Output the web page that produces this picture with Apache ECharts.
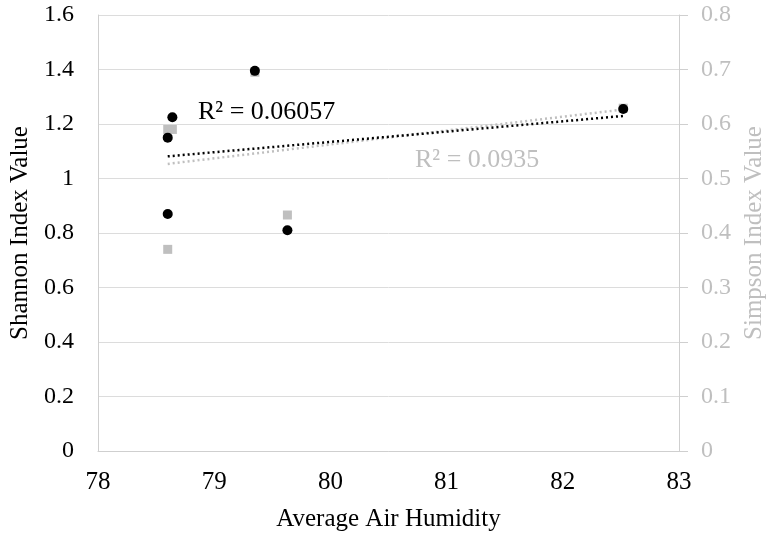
<!DOCTYPE html>
<html><head><meta charset="utf-8">
<script src="https://cdn.jsdelivr.net/npm/echarts@6/dist/echarts.min.js"></script>
<style>html,body{margin:0;padding:0;background:#fff}#c{width:766px;height:537px}</style>
</head><body><div id="c"></div>
<script>
const humidity = [78.6, 78.64, 78.6, 79.35, 79.63, 82.52];
const shannon = [1.15, 1.225, 0.87, 1.395, 0.81, 1.255];
const simpson = [0.59, 0.59, 0.37, 0.695, 0.433, 0.629];
const xTicks = [78, 79, 80, 81, 82, 83];
const shannonR2 = 'R² = 0.06057';
const simpsonR2 = 'R² = 0.0935';

function fit(xs, ys) {
  const n = xs.length;
  const mx = xs.reduce((a, b) => a + b, 0) / n;
  const my = ys.reduce((a, b) => a + b, 0) / n;
  let sxy = 0, sxx = 0;
  for (let i = 0; i < n; i++) { sxy += (xs[i] - mx) * (ys[i] - my); sxx += (xs[i] - mx) ** 2; }
  const k = sxy / sxx, b = my - k * mx;
  const x0 = Math.min(...xs), x1 = Math.max(...xs);
  return [[x0, k * x0 + b], [x1, k * x1 + b]];
}
const pts = (ys) => humidity.map((x, i) => [x, ys[i]]);

const FONT = 'Liberation Serif';
const GRAY = '#bfbfbf';
const AXIS = '#cfcfcf';
const chart = echarts.init(document.getElementById('c'));
chart.setOption({
  animation: false,
  grid: { left: 98, right: 87, top: 15, bottom: 86, outerBoundsMode: 'none', containLabel: false },
  xAxis: {
    type: 'value', min: xTicks[0], max: xTicks[xTicks.length - 1], interval: 1,
    name: 'Average Air Humidity', nameLocation: 'middle', nameGap: 56,
    nameTextStyle: { fontFamily: FONT, fontSize: 25, color: '#000' },
    axisLine: { show: true, lineStyle: { color: AXIS } },
    axisTick: { show: false },
    axisLabel: { fontFamily: FONT, fontSize: 25, color: '#000', margin: 19 },
    splitLine: { show: false }
  },
  yAxis: [{
    type: 'value', min: 0, max: 1.6, interval: 0.2, position: 'left',
    name: 'Shannon Index Value', nameLocation: 'middle', nameGap: 64,
    nameTextStyle: { fontFamily: FONT, fontSize: 25, color: '#000' },
    axisLine: { show: true, lineStyle: { color: AXIS } },
    axisTick: { show: false },
    axisLabel: { fontFamily: FONT, fontSize: 24, color: '#000', margin: 24 },
    splitLine: { show: true, lineStyle: { color: '#dcdcdc' } }
  }, {
    type: 'value', min: 0, max: 0.8, interval: 0.1, position: 'right',
    name: 'Simpson Index Value', nameLocation: 'middle', nameGap: 63,
    nameTextStyle: { fontFamily: FONT, fontSize: 25, color: GRAY },
    axisLine: { show: true, lineStyle: { color: AXIS } },
    axisTick: { show: true, inside: false, length: 9, lineStyle: { color: AXIS } },
    axisLabel: { fontFamily: FONT, fontSize: 24, color: GRAY, margin: 22 },
    splitLine: { show: false }
  }],
  series: [
    { type: 'scatter', yAxisIndex: 1, data: pts(simpson), symbol: 'rect', symbolSize: 9,
      itemStyle: { color: GRAY, opacity: 1 }, z: 2 },
    { type: 'line', yAxisIndex: 1, data: fit(humidity, simpson), symbol: 'none',
      lineStyle: { color: GRAY, width: 2.5, type: [2, 3] }, z: 3 },
    { type: 'line', yAxisIndex: 0, data: fit(humidity, shannon), symbol: 'none',
      lineStyle: { color: '#000', width: 2.5, type: [2, 3] }, z: 4 },
    { type: 'scatter', yAxisIndex: 0, data: pts(shannon), symbol: 'circle', symbolSize: 10,
      itemStyle: { color: '#000', opacity: 1 }, z: 5 }
  ],
  graphic: [
    { type: 'text', left: 198, top: 99, style: { text: shannonR2, font: '26px "Liberation Serif"', fill: '#000' }, z: 10 },
    { type: 'text', left: 415, top: 147, style: { text: simpsonR2, font: '26px "Liberation Serif"', fill: GRAY }, z: 10 }
  ]
});
</script></body></html>
